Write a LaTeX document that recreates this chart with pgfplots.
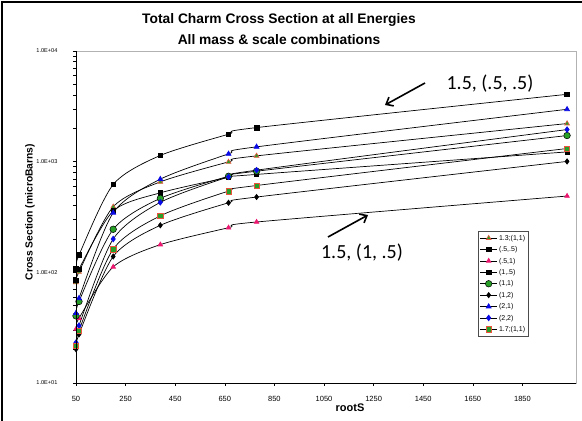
\documentclass[border=0pt]{standalone}
\usepackage{pgfplots}
\pgfplotsset{compat=1.18}
\usepackage{fontspec}
\setmainfont{Liberation Sans}
\newfontfamily\calibri{Carlito}
\usetikzlibrary{arrows.meta}
\definecolor{mgreen}{RGB}{40,160,40}
\definecolor{mred}{RGB}{232,84,60}
\definecolor{mpink}{RGB}{236,24,112}
\definecolor{mblue}{RGB}{10,10,230}

\begin{document}
\begin{tikzpicture}[x=1pt,y=1pt]
\useasboundingbox (0pt,0pt) rectangle (582pt,421pt);
\fill[white] (0pt,0pt) rectangle (582pt,421pt);
% outer frame (left and top edges)
\draw[line width=2pt] (2pt,0pt) -- (2pt,419pt) -- (582pt,419pt);

\begin{axis}[
  at={(76pt,38pt)}, anchor=south west,
  scale only axis, width=500pt, height=332pt,
  xmin=50, xmax=2066,
  ymode=log, ymin=10, ymax=10000,
  xtick={50,250,450,650,850,1050,1250,1450,1650,1850},
  xticklabels={50,250,450,650,850,1050,1250,1450,1650,1850},
  ytick={10,100,1000,10000},
  yticklabels={1.0E+01,1.0E+02,1.0E+03,1.0E+04},
  minor ytick={},
  xtick pos=bottom, ytick pos=left,
  tick align=outside, major tick length=3pt,
  tick style={black, line width=0.5pt},
  axis line style={draw=gray!60, line width=0.6pt},
  xticklabel style={font=\fontsize{7.5}{8}\selectfont, yshift=-7pt},
  yticklabel style={font=\fontsize{5.6}{6}\selectfont, xshift=-12pt},
  /pgf/number format/assume math mode=true,
  every axis plot/.append style={black, line width=0.7pt, smooth, tension=0.45},
  legend style={at={(0.804,0.458)}, anchor=north west,
    font=\fontsize{7}{8}\selectfont, draw=gray!60!black, line width=0.6pt,
    inner sep=1.5pt, row sep=0.6pt,
    nodes={inner sep=1.5pt, text height=6pt, text depth=1.8pt}},
  legend cell align=left,
]
% 1.3;(1,1)
\addplot[mark=triangle*, mark size=2.8pt, mark options={fill=mgreen, draw=mred, line width=0.6pt}]
  coordinates {(50,81) (62,101) (200,391) (390,657) (665,995) (778,1128) (2030,2210)};
\addlegendentry{1.3;(1,1)}
% (.5,.5)
\addplot[mark=square*, mark size=2.3pt, mark options={fill=black}]
  coordinates {(50,107) (62,143) (200,622) (390,1138) (665,1770) (778,2032) (2030,4060)};
\addlegendentry{(.5,.5)}
% (.5,1)
\addplot[mark=triangle*, mark size=2.6pt, mark options={fill=mpink, draw=mpink}]
  coordinates {(50,30.7) (62,38.5) (200,112) (390,178) (665,253) (778,285) (2030,489)};
\addlegendentry{(.5,1)}
% (1,.5)
\addplot[mark=square*, mark size=2.2pt, mark options={fill=black}]
  coordinates {(50,85) (62,107) (200,358) (390,523) (665,720) (778,767) (2030,1225)};
\addlegendentry{(1,.5)}
% (1,1)
\addplot[mark=*, mark size=3.3pt, mark options={fill=mgreen, draw=black, line width=0.5pt}]
  coordinates {(50,40.4) (62,54.5) (200,245) (390,466) (665,738) (778,820) (2030,1722)};
\addlegendentry{(1,1)}
% (1,2)
\addplot[mark=diamond*, mark size=2.6pt, mark options={fill=black}]
  coordinates {(50,20.2) (62,27.5) (200,139) (390,266) (665,425) (778,479) (2030,1005)};
\addlegendentry{(1,2)}
% (2,1)
\addplot[mark=triangle*, mark size=2.8pt, mark options={fill=mblue, draw=mblue}]
  coordinates {(50,42.8) (62,58.3) (200,345) (390,695) (665,1175) (778,1361) (2030,2973)};
\addlegendentry{(2,1)}
% (2,2)
\addplot[mark=diamond*, mark size=2.8pt, mark options={fill=mblue, draw=mblue}]
  coordinates {(50,23.2) (62,33) (200,200) (390,429) (665,730) (778,838) (2030,1950)};
\addlegendentry{(2,2)}
% 1.7;(1,1)
\addplot[mark=square*, mark size=2.7pt, mark options={fill=mgreen, draw=mred, line width=0.6pt}]
  coordinates {(50,21.7) (62,29.8) (200,162) (390,324) (665,542) (778,609) (2030,1315)};
\addlegendentry{1.7;(1,1)}
\end{axis}

% black left and bottom axis lines
\draw[black, line width=0.8pt] (76pt,370pt) -- (76pt,38pt) -- (576pt,38pt);

% titles and axis labels
\node[font=\bfseries\fontsize{13.8}{15}\selectfont, anchor=base] at (279pt,397pt) {Total Charm Cross Section at all Energies};
\node[font=\bfseries\fontsize{13.8}{15}\selectfont, anchor=base] at (279pt,376pt) {All mass \& scale combinations};
\node[font=\bfseries\fontsize{10.3}{12}\selectfont, rotate=90] at (30pt,209pt) {Cross Section (microBarns)};
\node[font=\bfseries\fontsize{11}{12}\selectfont] at (350pt,13pt) {rootS};

% annotations
\node[font=\calibri\fontsize{20}{22}\selectfont] at (490pt,337pt) {1.5, (.5, .5)};
\draw[line width=1.6pt, -{Straight Barb[length=6pt,width=10pt]}] (425pt,338pt) -- (385pt,316pt);
\node[font=\calibri\fontsize{20}{22}\selectfont] at (362pt,168pt) {1.5, (1, .5)};
\draw[line width=1.6pt, -{Straight Barb[length=6pt,width=10pt]}] (328pt,184pt) -- (368pt,206pt);
\end{tikzpicture}
\end{document}
